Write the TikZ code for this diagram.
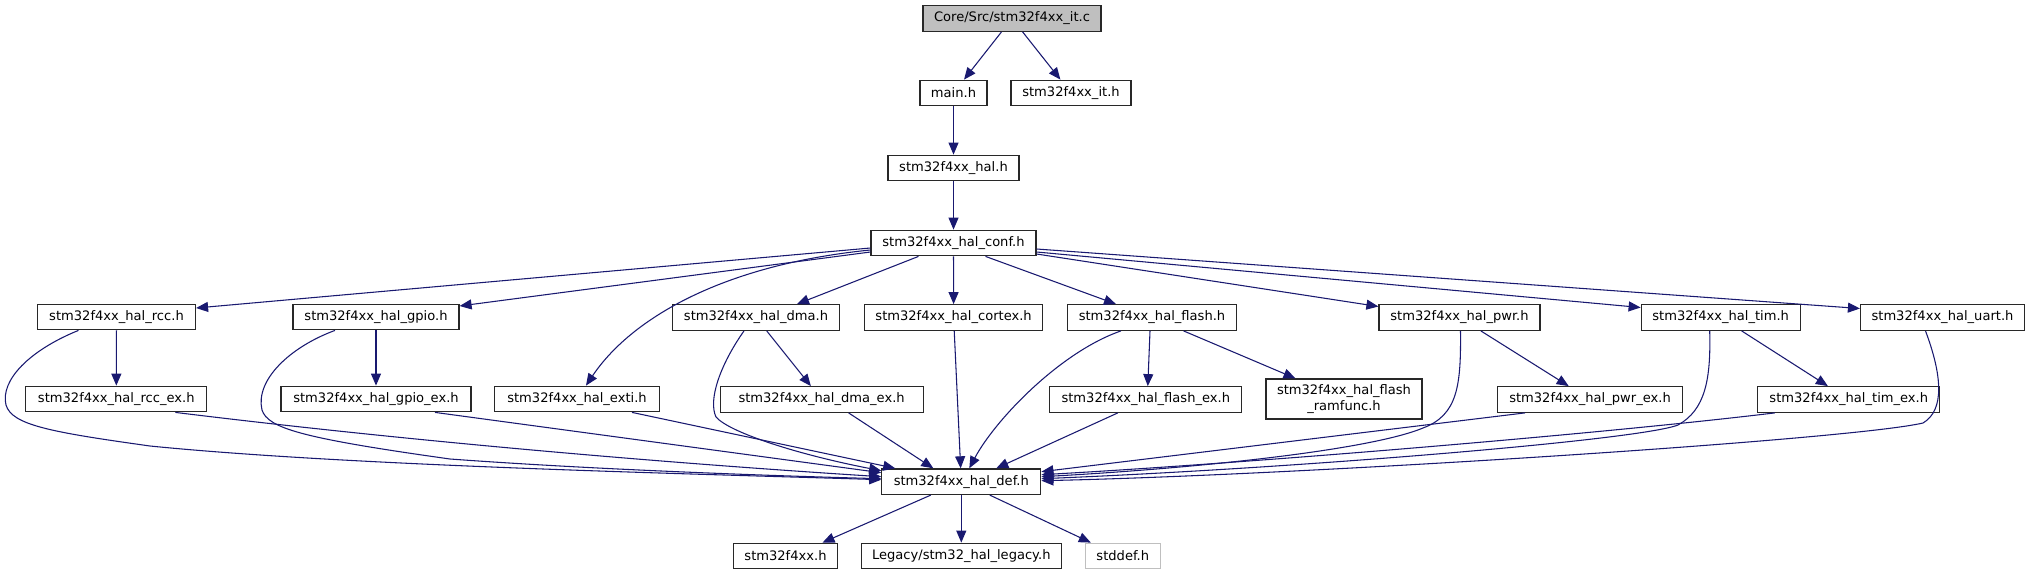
\documentclass[tikz,border=0pt]{standalone}
\usepackage{fontspec}
\setmainfont{DejaVu Sans}
\usetikzlibrary{arrows.meta,calc}
\definecolor{edgec}{RGB}{25,25,112}
\definecolor{bord}{RGB}{40,40,40}
\definecolor{grayfill}{RGB}{191,191,191}
\begin{document}
\begin{tikzpicture}[x=0.75pt,y=-0.75pt,
  nd/.style={draw=bord, line width=0.9pt, fill=white, minimum height=19.2pt, inner sep=0pt,
             font=\fontsize{9.8}{11.5}\selectfont},
  W/.style={minimum width=#1*0.75pt},
  e/.style={draw=edgec, line width=0.8pt, -{Triangle[length=9pt,width=7.5pt]}}]
\useasboundingbox (0,0) rectangle (2032,575);
% nodes
\node[nd,W=178,fill=grayfill] (top) at (1012,18.5) {Core/Src/stm32f4xx\_it.c};
\node[nd,W=67] (main) at (953.5,93) {main.h};
\node[nd,W=120] (it) at (1071,93) {stm32f4xx\_it.h};
\node[nd,W=131] (hal) at (953.5,168) {stm32f4xx\_hal.h};
\node[nd,W=165] (conf) at (953.5,243) {stm32f4xx\_hal\_conf.h};
\node[nd,W=158] (rcc) at (116.5,317) {stm32f4xx\_hal\_rcc.h};
\node[nd,W=166] (gpio) at (376,317) {stm32f4xx\_hal\_gpio.h};
\node[nd,W=167] (dma) at (756,317.5) {stm32f4xx\_hal\_dma.h};
\node[nd,W=178] (cortex) at (953.6,317.5) {stm32f4xx\_hal\_cortex.h};
\node[nd,W=169] (flash) at (1152,317.5) {stm32f4xx\_hal\_flash.h};
\node[nd,W=161] (pwr) at (1459.5,317.5) {stm32f4xx\_hal\_pwr.h};
\node[nd,W=159] (tim) at (1720.7,317.5) {stm32f4xx\_hal\_tim.h};
\node[nd,W=164] (uart) at (1942.5,317.5) {stm32f4xx\_hal\_uart.h};
\node[nd,W=181] (rccex) at (116.3,399) {stm32f4xx\_hal\_rcc\_ex.h};
\node[nd,W=190] (gpioex) at (376,399) {stm32f4xx\_hal\_gpio\_ex.h};
\node[nd,W=165] (exti) at (577,399) {stm32f4xx\_hal\_exti.h};
\node[nd,W=203] (dmaex) at (821.6,399.5) {stm32f4xx\_hal\_dma\_ex.h};
\node[nd,W=192] (flashex) at (1145.8,399.5) {stm32f4xx\_hal\_flash\_ex.h};
\node[nd,W=156,minimum height=30pt,align=center] (ramfunc) at (1344,399) {stm32f4xx\_hal\_flash\\\_ramfunc.h};
\node[nd,W=185] (pwrex) at (1590,399.5) {stm32f4xx\_hal\_pwr\_ex.h};
\node[nd,W=182] (timex) at (1848.8,399.5) {stm32f4xx\_hal\_tim\_ex.h};
\node[nd,W=159] (def) at (961.3,481.7) {stm32f4xx\_hal\_def.h};
\node[nd,W=104] (f4) at (785.5,556) {stm32f4xx.h};
\node[nd,W=200] (legacy) at (961.3,556) {Legacy/stm32\_hal\_legacy.h};
\node[nd,W=75,draw=grayfill] (stddef) at (1122.8,556) {stddef.h};
% edges top part
\draw[e] (top) -- (main);
\draw[e] (top) -- (it);
\draw[e] (main) -- (hal);
\draw[e] (hal) -- (conf);
% conf fan-out
\draw[e] ($(conf.west)+(0,5)$) -- ($(rcc.east)+(0,-9)$);
\draw[e] ($(conf.west)+(0,9)$) -- ($(gpio.east)+(0,-11)$);
\draw[e] ($(conf.west)+(0,7)$) .. controls (720,265) and (630,320) .. (exti);
\draw[e] ($(conf.south)+(-35,0)$) -- ($(dma.north)+(41,0)$);
\draw[e] (conf) -- (cortex);
\draw[e] ($(conf.south)+(32,0)$) -- ($(flash.north)+(-36,0)$);
\draw[e] ($(conf.east)+(0,11)$) -- ($(pwr.west)+(0,-11)$);
\draw[e] ($(conf.east)+(0,9)$) -- ($(tim.west)+(0,-10)$);
\draw[e] ($(conf.east)+(0,6)$) -- ($(uart.west)+(0,-9)$);
% second level
\draw[e] (rcc) -- (rccex);
\draw[e] (gpio) -- (gpioex);
\draw[e] (dma) -- (dmaex);
\draw[e] ($(flash.south)+(-2,0)$) -- ($(flashex.north)+(2,0)$);
\draw[e] (flash) -- (ramfunc);
\draw[e] (pwr) -- (pwrex);
\draw[e] (tim) -- (timex);
% into def, left side
\draw[e] ($(rcc.south)+(-38,0)$) .. controls (30,350) and (0,380) .. (6,405)
  .. controls (12,425) and (50,432) .. (150,446)
  .. controls (350,466) and (700,474) .. ($(def.west)+(0,-2)$);
\draw[e] ($(gpio.south)+(-41,0)$) .. controls (290,347) and (255,380) .. (262,410)
  .. controls (268,428) and (300,438) .. (450,459)
  .. controls (600,470) and (780,476) .. ($(def.west)+(0,-3)$);
\draw[e] ($(rccex.south)+(59,0)$) .. controls (400,440) and (650,462) .. ($(def.west)+(0,-5)$);
\draw[e] ($(gpioex.south)+(59,0)$) -- ($(def.west)+(0,-9)$);
\draw[e] ($(exti.south)+(55,0)$) -- ($(def.north west)+(14,0)$);
\draw[e] ($(dma.south)+(-12,0)$) .. controls (720,365) and (708,400) .. (716,417)
  .. controls (730,433) and (800,455) .. ($(def.west)+(0,-11)$);
\draw[e] ($(dmaex.south)+(27,0)$) -- ($(def.north)+(-28,0)$);
\draw[e] (cortex) -- (def);
\draw[e] ($(flash.south)+(-31,0)$) .. controls (1060,352) and (995,420) .. ($(def.north)+(8,0)$);
\draw[e] ($(flashex.south)+(-28,0)$) -- ($(def.north)+(35,0)$);
% into def, right side
\draw[e] ($(pwrex.south)+(-65,0)$) -- ($(def.east)+(0,-10)$);
\draw[e] ($(timex.south)+(-74,0)$) .. controls (1600,434) and (1250,463) .. ($(def.east)+(0,-7)$);
\draw[e] ($(pwr.south)+(1,0)$) .. controls (1461,385) and (1458,415) .. (1423,428)
  .. controls (1370,450) and (1200,468) .. ($(def.east)+(0,-5)$);
\draw[e] ($(tim.south)+(-11,0)$) .. controls (1711,380) and (1705,410) .. (1678,425)
  .. controls (1640,440) and (1300,468) .. ($(def.east)+(0,-3)$);
\draw[e] ($(uart.south)+(-17,0)$) .. controls (1942,375) and (1945,410) .. (1923,423)
  .. controls (1850,440) and (1300,475) .. ($(def.east)+(0,-1)$);
% def fan-out
\draw[e] (def) -- ($(f4.north)+(37,0)$);
\draw[e] (def) -- (legacy);
\draw[e] (def) -- ($(stddef.north)+(-32,0)$);
\end{tikzpicture}
\end{document}
